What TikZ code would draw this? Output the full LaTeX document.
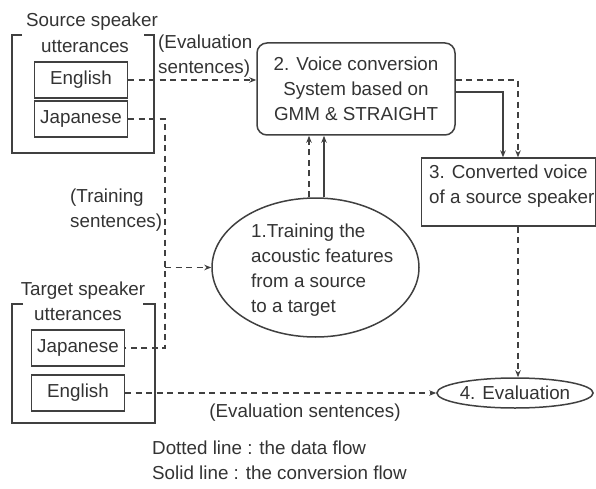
\documentclass[tikz,border=0pt]{standalone}
\usepackage{fontspec}
\setmainfont{Liberation Sans}
\usetikzlibrary{arrows.meta,shapes.geometric}
\definecolor{lc}{gray}{0.25}
\definecolor{tc}{gray}{0.2}
\begin{document}
\begin{tikzpicture}[x=1pt,y=-1pt,
  ln/.style={draw=lc, line width=1.3pt},
  dsh/.style={ln, line width=1.2pt, dash pattern=on 6pt off 4.5pt},
  arr/.style={-{Stealth[length=7pt,width=5.5pt]}},
  txt/.style={inner sep=0pt, text=tc, font=\fontsize{18.8}{25}\selectfont},
  langbox/.style={txt, draw=lc, line width=1.3pt, minimum width=93pt, minimum height=36pt},
  rbox/.style={txt, draw=lc, line width=1.5pt, rounded corners=10pt},
  sbox/.style={draw=lc, line width=1.3pt, inner sep=0pt},
  ell/.style={txt, draw=lc, line width=1.5pt, ellipse, inner sep=0pt}]
\useasboundingbox (0,0) rectangle (596,489);

% source speaker group
\draw[ln] (22,35) -- (12,35) -- (12,153) -- (154,153) -- (154,35) -- (144,35);
\node[txt] (srcLbl) at (92,22) {Source speaker};
\node[txt] (srcUtt) at (85,47) {utterances};
\node[langbox] (sEng) at (81,80) {English};
\node[langbox] (sJap) at (81,119) {Japanese};

% target speaker group
\draw[ln] (23,304) -- (12,304) -- (12,423) -- (155,423) -- (155,304) -- (143,304);
\node[txt] (tgtLbl) at (83,291) {Target speaker};
\node[txt] (tgtUtt) at (78,315) {utterances};
\node[langbox] (tJap) at (78,348) {Japanese};
\node[langbox] (tEng) at (78,393) {English};

% main boxes
\node[rbox, minimum width=198pt, minimum height=92pt, align=center] (b2) at (356,89)
  {2. Voice conversion\\System based on\\GMM \& STRAIGHT};
\node[sbox, minimum width=174pt, minimum height=68pt] (b3) at (508.5,192) {};
\node[txt, anchor=west, align=left] (b3t) at (429,186) {3. Converted voice\\of a source speaker};
\node[ell, minimum width=207pt, minimum height=139pt] (e1) at (315.5,267.5) {};
\node[txt, anchor=west, align=left] (e1t) at (251,270.5)
  {1.Training the\\acoustic features\\from a source\\to a target};
\node[ell, minimum width=146pt, minimum height=30pt] (ev) at (515,393) {4. Evaluation};

% labels
\node[txt, anchor=west, align=left] (evLbl1) at (158,56.5) {(Evaluation\\sentences)};
\node[txt, anchor=west, align=left] (trLbl) at (70,210) {(Training\\sentences)};
\node[txt] (evLbl2) at (305,413) {(Evaluation sentences)};
\node[txt, anchor=west, align=left] (legend) at (152,460)
  {Dotted line : the data flow\\Solid line : the conversion flow};

% connectors
\coordinate (jx) at (165,0);
\draw[dsh,arr] (sEng.east) -- (sEng.east -| b2.west);
\draw[dsh] (sJap.east) -- (sJap.east -| jx) -- (tJap.east -| jx) -- (tJap.east);
\draw[dsh,arr] (jx |- e1.west) -- (e1.west);
\draw[dsh,arr] (tEng.east) -- (ev.west);
\draw[dsh,arr] ([yshift=9pt]b2.east) -| ([xshift=9.5pt]b3.north);
\draw[ln,arr] ([yshift=-3pt]b2.east) -| ([xshift=-5.5pt]b3.north);
\draw[dsh,arr] ([xshift=-6.5pt]e1.north) -- ([xshift=-6.5pt]e1.north |- b2.south);
\draw[ln,arr] ([xshift=8.5pt]e1.north) -- ([xshift=8.5pt]e1.north |- b2.south);
\draw[dsh,arr] ([xshift=9.5pt]b3.south) -- ([xshift=9.5pt]b3.south |- ev.north);
\end{tikzpicture}
\end{document}
